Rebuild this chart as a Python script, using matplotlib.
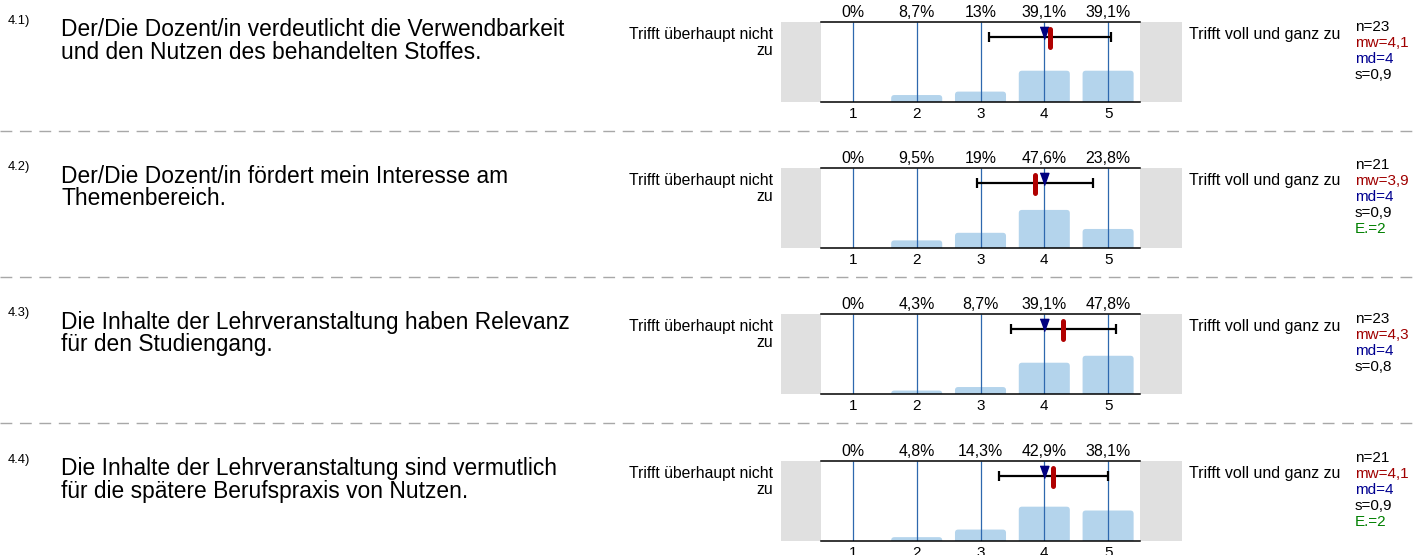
import matplotlib
matplotlib.use("Agg")
import matplotlib.pyplot as plt
from matplotlib.patches import FancyBboxPatch, Rectangle
from matplotlib.lines import Line2D

plt.rcParams['font.family'] = ['Liberation Sans', 'DejaVu Sans']

# data
item_ids = ["4.1)", "4.2)", "4.3)", "4.4)"]
questions = [
    "Der/Die Dozent/in verdeutlicht die Verwendbarkeit\nund den Nutzen des behandelten Stoffes.",
    "Der/Die Dozent/in fördert mein Interesse am\nThemenbereich.",
    "Die Inhalte der Lehrveranstaltung haben Relevanz\nfür den Studiengang.",
    "Die Inhalte der Lehrveranstaltung sind vermutlich\nfür die spätere Berufspraxis von Nutzen.",
]
scale = [1, 2, 3, 4, 5]
percents = [
    [0, 8.7, 13, 39.1, 39.1],
    [0, 9.5, 19, 47.6, 23.8],
    [0, 4.3, 8.7, 39.1, 47.8],
    [0, 4.8, 14.3, 42.9, 38.1],
]
n_answers = [23, 21, 23, 21]
means = [4.09, 3.86, 4.30, 4.14]
medians = [4, 4, 4, 4]
std_devs = [0.949, 0.91, 0.823, 0.854]
abstentions = [0, 2, 0, 2]
left_pole = "Trifft überhaupt nicht\nzu"
right_pole = "Trifft voll und ganz zu"

W, H = 1417, 555
fig = plt.figure(figsize=(W / 100, H / 100), dpi=100)


def fx(px):
    return px / W


def fy(py):
    return 1 - py / H


def fmt_pct(v):
    s = ("%.1f" % v).replace(".", ",")
    if s.endswith(",0"):
        s = s[:-2]
    return s + "%"


BOX_L, BOX_R, BOX_H = 821, 1140, 80
tops = [22, 168, 314, 461]
px_y = 100.0 / BOX_H   # y data units per pixel
tri = [(-0.72, 1), (0.72, 1), (0, -1)]

for i, top in enumerate(tops):
    ax = fig.add_axes([fx(BOX_L), fy(top + BOX_H), (BOX_R - BOX_L) / W, BOX_H / H])
    ax.set_xlim(0.5, 5.5)
    ax.set_ylim(0, 100)

    # grey side blocks
    ax.add_patch(Rectangle((-0.125, 0), 0.625, 100, fc='#e0e0e0', ec='none',
                           clip_on=False, zorder=0))
    ax.add_patch(Rectangle((5.5, 0), 0.66, 100, fc='#e0e0e0', ec='none',
                           clip_on=False, zorder=0))

    for x, p in zip(scale, percents[i]):
        ax.add_patch(FancyBboxPatch((x - 0.4, -6), 0.8, p + 6,
                                    boxstyle="round,pad=0,rounding_size=0.05",
                                    mutation_aspect=80, fc='#b4d4ec', ec='none', zorder=1))
        ax.annotate(fmt_pct(p), xy=(x, 100), xytext=(0, 3.4), textcoords='offset points',
                    ha='center', va='baseline', fontsize=11.4, annotation_clip=False)
    ax.vlines(scale, 0, 100, color='#2e68ae', lw=0.9, zorder=2)

    ax.errorbar(means[i], 100 - 15 * px_y, xerr=std_devs[i], color='black', lw=1.6,
                capsize=3.6, capthick=1.6, zorder=3)
    ax.plot(medians[i], 100 - 11 * px_y, marker=tri, ms=8.8, color='#000080',
            ls='none', zorder=4)
    ax.plot([means[i], means[i]], [100 - 7.4 * px_y, 100 - 24.6 * px_y], color='#b00000',
            lw=3.6, solid_capstyle='round', zorder=5)

    for side in ['left', 'right']:
        ax.spines[side].set_visible(False)
    for side in ['top', 'bottom']:
        ax.spines[side].set_linewidth(1.1)
    ax.set_xticks(scale)
    ax.set_yticks([])
    ax.tick_params(axis='x', length=0, pad=3.8, labelsize=11)

    # texts
    fig.text(fx(8), fy(top - 1), item_ids[i], fontsize=9.3, va='center')
    fig.text(fx(61), fy(top - 3.5), questions[i], fontsize=16.4, va='top', linespacing=0.97)
    fig.text(fx(773), fy(top + 5.3), left_pole, fontsize=11.3, ha='right', va='top',
             multialignment='right', linespacing=1.02)
    fig.text(fx(1189), fy(top + 16.6), right_pole, fontsize=11.5, va='baseline')

    stats = [("n=%d" % n_answers[i], 'black'),
             ("mw=" + ("%.1f" % means[i]).replace(".", ","), '#a00000'),
             ("md=%d" % medians[i], '#000090'),
             ("s=" + ("%.1f" % std_devs[i]).replace(".", ","), 'black')]
    if abstentions[i]:
        stats.append(("E.=%d" % abstentions[i], '#008000'))
    first = top + 27.5 - (len(stats) - 1) * 8
    for k, (txt, col) in enumerate(stats):
        fig.text(fx(1355), fy(first + 16 * k + 5.5), txt, fontsize=11, color=col,
                 va='baseline')

    if i < len(tops) - 1:
        fig.add_artist(Line2D([0, 1], [fy(top + 109)] * 2, transform=fig.transFigure,
                              color='#a8a8a8', lw=1.0, dashes=(8.5, 5.5)))

fig.savefig("out.png", dpi=100)
